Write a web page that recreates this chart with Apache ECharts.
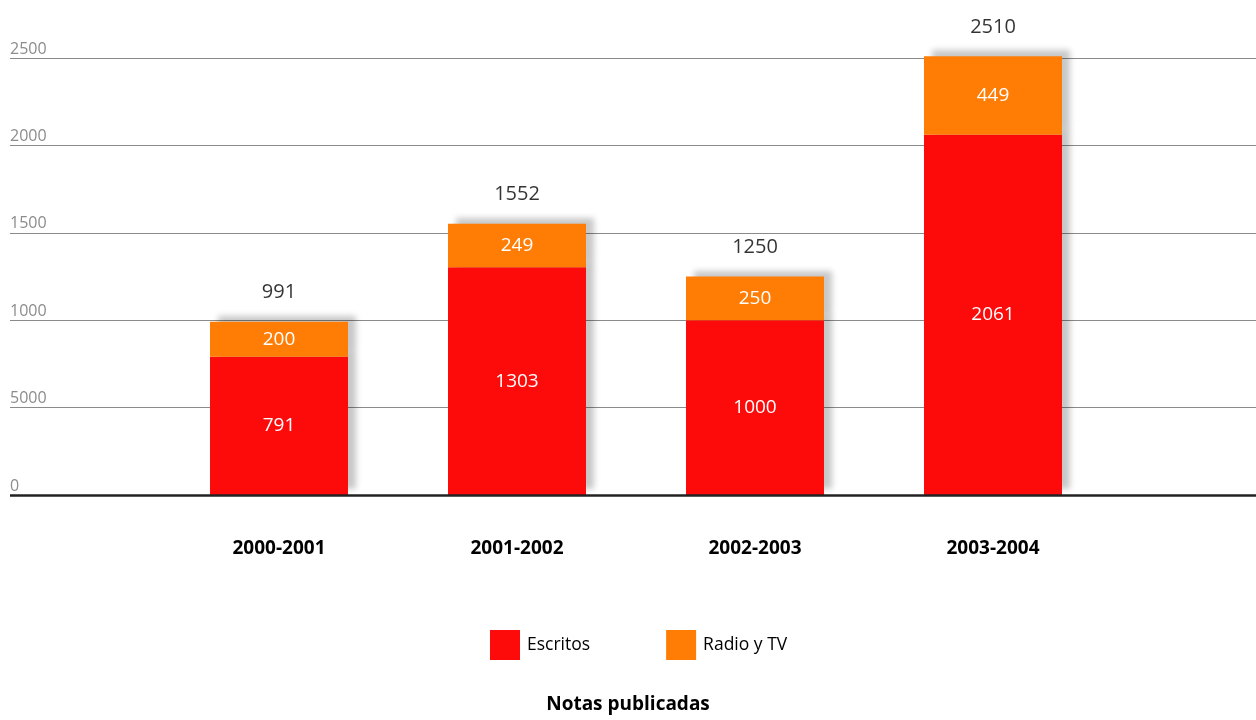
<!DOCTYPE html>
<html>
<head>
<meta charset="utf-8">
<script src="https://cdn.jsdelivr.net/npm/echarts@6/dist/echarts.min.js"></script>
<style>
html,body{margin:0;padding:0;background:#fff;}
#chart{width:1256px;height:720px;}
</style>
</head>
<body>
<div id="chart"></div>
<script>
// Published notes per academic year, split by medium
const categories = ['2000-2001', '2001-2002', '2002-2003', '2003-2004'];
const escritos = [791, 1303, 1000, 2061];
const radioTv = [200, 249, 250, 449];
const totals = [991, 1552, 1250, 2510];
// Tick labels as printed on the value axis (bottom to top)
const tickLabels = ['0', '5000', '1000', '1500', '2000', '2500'];

const FONT = '"Open Sans", "Noto Sans", sans-serif';
const RED = '#fd0b0b';
const ORANGE = '#ff7d05';

const chart = echarts.init(document.getElementById('chart'));

const shadow = {
  shadowColor: 'rgba(0,0,0,0.22)',
  shadowBlur: 6,
  shadowOffsetX: 8,
  shadowOffsetY: -6
};

chart.setOption({
  animation: false,
  backgroundColor: '#ffffff',
  textStyle: { fontFamily: FONT },
  grid: [
    // full-width grid that carries the horizontal rules and tick labels
    { left: 10, right: 0, top: 58, height: 437 },
    // grid holding the bars
    { left: 160, width: 952, top: 58, height: 437 }
  ],
  xAxis: [
    { gridIndex: 0, type: 'category', data: categories, show: false },
    {
      gridIndex: 1, type: 'category', data: categories,
      axisLine: { show: false }, axisTick: { show: false },
      axisLabel: { color: '#000', fontSize: 19, fontWeight: 'bold', margin: 44, fontFamily: FONT }
    }
  ],
  yAxis: [
    {
      gridIndex: 0, type: 'value', min: 0, max: 2500, interval: 500,
      axisLine: { show: false }, axisTick: { show: false },
      splitLine: { show: true, lineStyle: { color: '#8a8a8a', width: 1.2 } },
      axisLabel: {
        inside: true, margin: 0, align: 'left', verticalAlign: 'bottom',
        color: '#8c8c8c', fontSize: 16, fontFamily: FONT, padding: [0, 0, 1, 0],
        formatter: (v) => tickLabels[Math.round(v / 500)]
      }
    },
    {
      gridIndex: 1, type: 'value', min: 0, max: 2500, interval: 500,
      show: false, splitLine: { show: false }
    }
  ],
  legend: {
    data: ['Escritos', 'Radio y TV'],
    left: 485, top: 625,
    itemWidth: 30, itemHeight: 30, itemGap: 76,
    icon: 'rect',
    textStyle: { color: '#000', fontSize: 17.5, fontFamily: FONT, padding: [0, 0, 0, 2] }
  },
  title: {
    text: 'Notas publicadas',
    left: 'center', top: 690,
    textStyle: { color: '#000', fontSize: 19, fontWeight: 'bold', fontFamily: FONT }
  },
  series: [
    {
      // dark baseline under the bars
      type: 'line', xAxisIndex: 0, yAxisIndex: 0, data: [],
      markLine: {
        silent: true, symbol: 'none', label: { show: false },
        lineStyle: { color: '#222', width: 2.5, type: 'solid' },
        data: [{ yAxis: 0 }]
      }
    },
    {
      name: 'Escritos', type: 'bar', stack: 'notas', xAxisIndex: 1, yAxisIndex: 1,
      barWidth: 138, clip: false, data: escritos,
      itemStyle: Object.assign({ color: RED }, shadow),
      label: { show: true, position: 'inside', color: '#fff', fontSize: 19, fontFamily: FONT }
    },
    {
      name: 'Radio y TV', type: 'bar', stack: 'notas', xAxisIndex: 1, yAxisIndex: 1,
      barWidth: 138, clip: false, data: radioTv,
      itemStyle: Object.assign({ color: ORANGE }, shadow),
      label: { show: true, position: 'inside', color: '#fff', fontSize: 19, fontFamily: FONT }
    },
    {
      // total per year printed above each stack
      name: 'Total', type: 'scatter', xAxisIndex: 1, yAxisIndex: 1,
      symbolSize: 0, clip: false, data: totals, silent: true,
      label: { show: true, position: 'top', distance: 19, color: '#000', fontSize: 20, fontFamily: FONT }
    }
  ]
});
</script>
</body>
</html>
